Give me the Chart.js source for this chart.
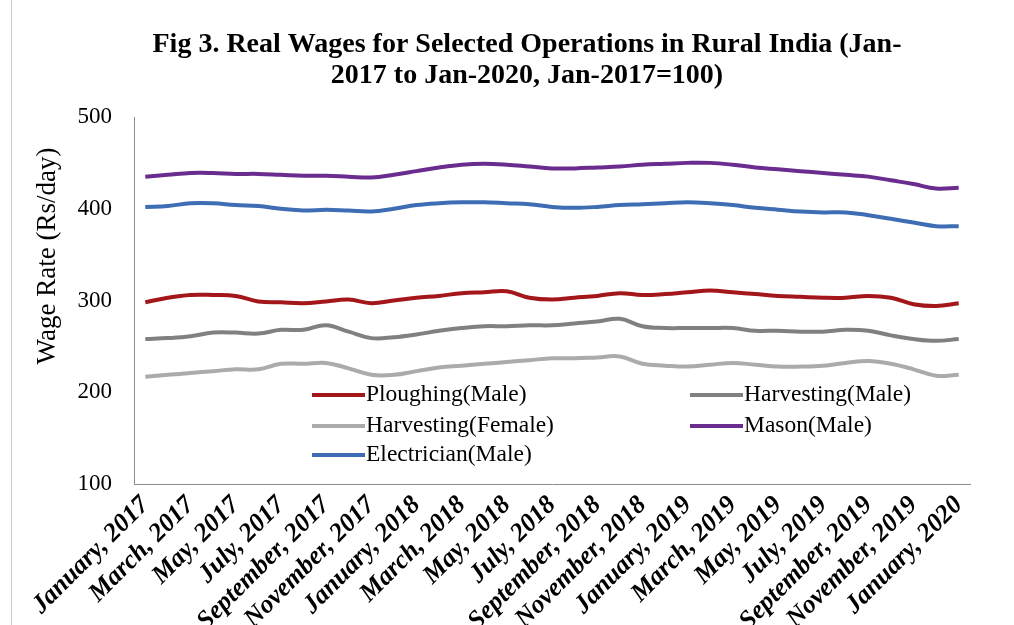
<!DOCTYPE html>
<html>
<head>
<meta charset="utf-8">
<title>Real Wages for Selected Operations in Rural India</title>
<script src="https://cdn.jsdelivr.net/npm/chart.js@4.4.1/dist/chart.umd.min.js"></script>
<style>
    html, body { margin: 0; padding: 0; background: #fff; }
    #wrap { position: relative; width: 1014px; height: 625px; }
    #wrap::before { content: ''; position: absolute; left: 11px; top: 0; bottom: 0; border-left: 1px solid #c8c8c8; }
</style>
</head>
<body>
<div id="wrap"><canvas id="wageChart" width="1014" height="625"></canvas></div>
<script>
// months Jan-2017 .. Jan-2020
const months = [
    'January, 2017', 'February, 2017', 'March, 2017', 'April, 2017', 'May, 2017', 'June, 2017',
    'July, 2017', 'August, 2017', 'September, 2017', 'October, 2017', 'November, 2017', 'December, 2017',
    'January, 2018', 'February, 2018', 'March, 2018', 'April, 2018', 'May, 2018', 'June, 2018',
    'July, 2018', 'August, 2018', 'September, 2018', 'October, 2018', 'November, 2018', 'December, 2018',
    'January, 2019', 'February, 2019', 'March, 2019', 'April, 2019', 'May, 2019', 'June, 2019',
    'July, 2019', 'August, 2019', 'September, 2019', 'October, 2019', 'November, 2019', 'December, 2019',
    'January, 2020'
];

// wage rate (Rs/day), real terms
const ploughingMale = [298, 303, 306, 306, 305, 299, 298, 297, 299, 301, 297, 300,
    303, 305, 308, 309, 310, 303, 301, 303, 305, 308, 306, 307,
    309, 311, 309, 307, 305, 304, 303, 303, 305, 303, 296, 294, 297];
const harvestingMale = [258, 259, 261, 265, 265, 264, 268, 268, 273, 266, 259, 260,
    263, 267, 270, 272, 272, 273, 273, 275, 277, 280, 272, 270,
    270, 270, 270, 267, 267, 266, 266, 268, 267, 262, 258, 256, 258];
const harvestingFemale = [217, 219, 221, 223, 225, 225, 231, 231, 232, 226, 219, 219,
    223, 227, 229, 231, 233, 235, 237, 237, 238, 239, 231, 229,
    228, 230, 232, 230, 228, 228, 229, 232, 234, 231, 225, 218, 219];
const masonMale = [435, 437, 439, 439, 438, 438, 437, 436, 436, 435, 434, 437,
    441, 445, 448, 449, 448, 446, 444, 444, 445, 446, 448, 449,
    450, 450, 448, 445, 443, 441, 439, 437, 435, 431, 427, 422, 423];
const electricianMale = [402, 403, 406, 406, 404, 403, 400, 398, 399, 398, 397, 400,
    404, 406, 407, 407, 406, 405, 402, 401, 402, 404, 405, 406,
    407, 406, 404, 401, 399, 397, 396, 396, 393, 389, 385, 381, 381];

const yTicks = [100, 200, 300, 400, 500];

const titleLines = [
    'Fig 3. Real Wages for Selected Operations in Rural India (Jan-',
    '2017 to Jan-2020, Jan-2017=100)'
];
const yTitle = 'Wage Rate (Rs/day)';

const serif = '"Liberation Serif", "Times New Roman", serif';

// title, y-axis caption and the in-plot legend
const annotations = {
    id: 'annotations',
    afterDraw(chart) {
        const ctx = chart.ctx;
        const area = chart.chartArea;
        ctx.save();
        ctx.fillStyle = '#000';
        ctx.textAlign = 'center';
        ctx.textBaseline = 'middle';
        ctx.font = 'bold 28px ' + serif;
        ctx.fillText(titleLines[0], 527, 45);
        ctx.fillText(titleLines[1], 527, 76);

        ctx.translate(48, 256);
        ctx.rotate(-Math.PI / 2);
        ctx.font = '27px ' + serif;
        ctx.fillText(yTitle, 0, 0);
        ctx.restore();

        // legend: two columns, three rows
        ctx.save();
        ctx.font = '23.5px ' + serif;
        ctx.textAlign = 'left';
        ctx.textBaseline = 'middle';
        const cols = [area.left + 178, area.left + 556];
        const rows = [area.top + 278, area.top + 309, area.top + 338];
        chart.data.datasets.forEach((ds, i) => {
            const x = cols[i % 2];
            const y = rows[Math.floor(i / 2)];
            ctx.strokeStyle = ds.borderColor;
            ctx.lineWidth = 4;
            ctx.beginPath();
            ctx.moveTo(x, y);
            ctx.lineTo(x + 53, y);
            ctx.stroke();
            ctx.fillStyle = '#000';
            ctx.fillText(ds.label, x + 54, y);
        });
        ctx.restore();
    }
};

const ctx = document.getElementById('wageChart');

new Chart(ctx, {
    type: 'line',
    data: {
        labels: months,
        datasets: [
            { label: 'Ploughing(Male)', data: ploughingMale, borderColor: '#A3161A' },
            { label: 'Harvesting(Male)', data: harvestingMale, borderColor: '#808080' },
            { label: 'Harvesting(Female)', data: harvestingFemale, borderColor: '#ABABAB' },
            { label: 'Mason(Male)', data: masonMale, borderColor: '#6A2D8F' },
            { label: 'Electrician(Male)', data: electricianMale, borderColor: '#3F6DB3' }
        ]
    },
    options: {
        responsive: false,
        animation: false,
        layout: { padding: { top: 117, right: 44, bottom: 0, left: 0 } },
        elements: {
            line: { borderWidth: 4, tension: 0.4 },
            point: { radius: 0 }
        },
        scales: {
            x: {
                offset: true,
                grid: { display: false, drawTicks: false },
                border: { color: '#8c8c8c', width: 1 },
                ticks: {
                    autoSkip: false,
                    minRotation: 45,
                    maxRotation: 45,
                    padding: 6,
                    color: '#000',
                    font: { family: serif, size: 26, weight: 'bold', style: 'italic' },
                    callback: function (value, index) {
                        return index % 2 === 0 ? months[index] : '';
                    }
                },
                afterFit: function (scale) { scale.height = 141; }
            },
            y: {
                min: 100,
                max: 500,
                afterBuildTicks: function (scale) {
                    scale.ticks = yTicks.map(v => ({ value: v }));
                },
                grid: { display: false, drawTicks: false },
                border: { color: '#8c8c8c', width: 1 },
                ticks: {
                    padding: 22,
                    color: '#000',
                    font: { family: serif, size: 23 }
                },
                afterFit: function (scale) { scale.width = 134; }
            }
        },
        plugins: {
            legend: { display: false },
            title: { display: false },
            tooltip: { enabled: false }
        }
    },
    plugins: [annotations]
});
</script>
</body>
</html>
